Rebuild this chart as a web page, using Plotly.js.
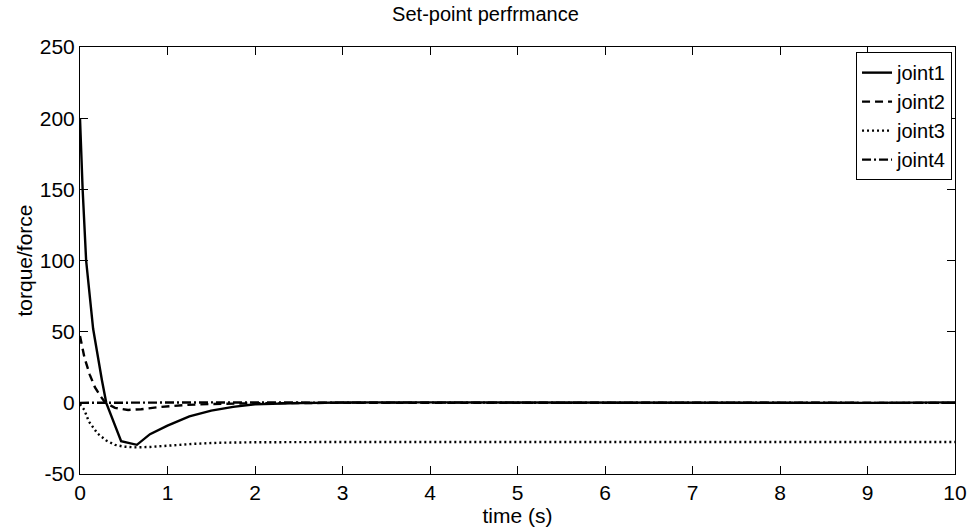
<!DOCTYPE html>
<html>
<head>
<meta charset="utf-8">
<script src="https://cdn.plot.ly/plotly-3.0.1.min.js"></script>
<style>html,body{margin:0;padding:0;background:#fff;}#chart{width:971px;height:531px;}</style>
</head>
<body>
<div id="chart"></div>
<script>
var seriesNames = ["joint1", "joint2", "joint3", "joint4"];

var joint1Time = [0, 0.03, 0.07, 0.15, 0.25, 0.30, 0.47, 0.65, 0.80, 1.0, 1.25, 1.5, 1.75, 2.0, 2.5, 3, 4, 5, 6, 7, 8, 9, 10];
var joint1Vals = [200, 150, 100, 52, 16, 0, -27, -29.5, -22, -16, -9.5, -5.5, -2.8, -1, -0.2, 0.2, 0.3, 0.2, 0.3, 0.1, -0.2, 0, 0.3];

var joint2Time = [0, 0.05, 0.11, 0.17, 0.23, 0.29, 0.4, 0.55, 0.7, 0.9, 1.2, 1.5, 2, 2.5, 3, 4, 5, 6, 7, 8, 9, 10];
var joint2Vals = [47, 32, 20, 11, 5, 0, -3.5, -5, -4.5, -3, -1.5, -0.8, -0.3, 0, 0, 0, 0, 0, 0, 0, 0, 0];

var joint3Time = [0, 0.05, 0.1, 0.2, 0.3, 0.4, 0.5, 0.65, 0.8, 1.0, 1.3, 1.6, 2, 3, 4, 5, 6, 7, 8, 9, 10];
var joint3Vals = [-1, -5, -13, -21.5, -26.5, -29.5, -30.8, -31.3, -31, -30, -28.8, -28, -27.7, -27.5, -27.5, -27.5, -27.5, -27.5, -27.5, -27.5, -27.5];

var joint4Time = [0, 0.5, 1, 1.5, 2, 3, 4, 5, 6, 7, 8, 9, 10];
var joint4Vals = [0, 0.2, 0.3, 0.3, 0.2, 0.1, 0, 0, 0, 0, 0, 0, 0];

var xTicks = [0, 1, 2, 3, 4, 5, 6, 7, 8, 9, 10];
var yTicks = [-50, 0, 50, 100, 150, 200, 250];

var dashes = ["solid", "8px,5px", "2px,3px", "9px,3px,2px,3px"];
var times = [joint1Time, joint2Time, joint3Time, joint4Time];
var vals = [joint1Vals, joint2Vals, joint3Vals, joint4Vals];

var traces = seriesNames.map(function (n, i) {
  return {
    x: times[i], y: vals[i], name: n, mode: "lines", type: "scatter",
    line: {color: "#000", width: 2.4, dash: dashes[i]}
  };
});

var FONT = "Liberation Sans, Arial, sans-serif";
var axisCommon = {
  showgrid: false, zeroline: false, showline: true, linecolor: "#000", linewidth: 1,
  mirror: "allticks", ticks: "inside", ticklen: 8, tickwidth: 1, tickcolor: "#000",
  tickfont: {family: FONT, size: 21, color: "#000"}
};

var layout = {
  width: 971, height: 531,
  margin: {l: 80, r: 16, t: 47, b: 57},
  paper_bgcolor: "#fff", plot_bgcolor: "#fff",
  font: {family: FONT, color: "#000"},
  title: {text: "Set-point perfrmance", font: {size: 20, color: "#000"}, x: 0.5, xanchor: "center", y: 0.974, yanchor: "middle"},
  xaxis: Object.assign({}, axisCommon, {
    range: [0, 10], tickvals: xTicks, ticktext: xTicks.map(String),
    title: {text: "time (s)", font: {size: 21, color: "#000"}, standoff: 4}
  }),
  yaxis: Object.assign({}, axisCommon, {
    range: [-50, 250], tickvals: yTicks, ticktext: yTicks.map(String),
    title: {text: "torque/force", font: {size: 21, color: "#000"}, standoff: 1}
  }),
  legend: {
    x: 0.9966, y: 0.988, xanchor: "right", yanchor: "top",
    bgcolor: "#fff", bordercolor: "#000", borderwidth: 1,
    font: {size: 20, color: "#000"}, itemwidth: 30, tracegroupgap: 0
  },
  showlegend: true
};

Plotly.newPlot("chart", traces, layout, {displayModeBar: false, staticPlot: true});
</script>
</body>
</html>
